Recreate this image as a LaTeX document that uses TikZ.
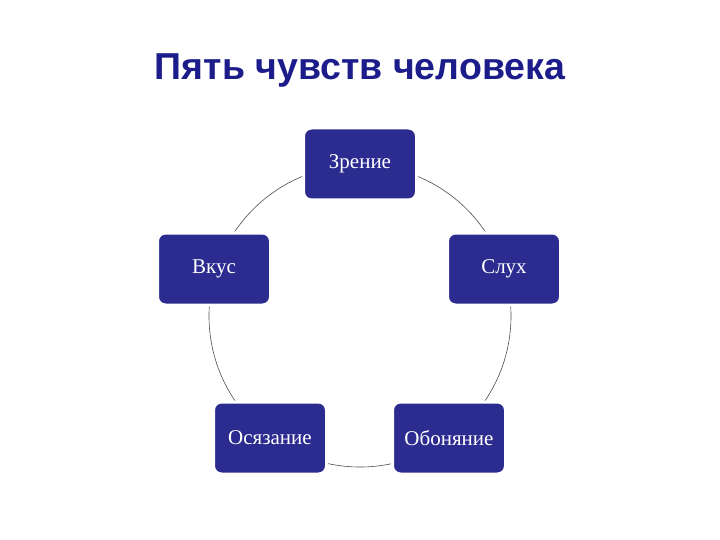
\documentclass[tikz,border=0pt]{standalone}
\usepackage{fontspec}
\setmainfont{Liberation Serif}
\newfontfamily\titlefont{Liberation Sans}
\definecolor{boxblue}{HTML}{2C2C90}
\definecolor{titleblue}{HTML}{1C1C8A}
\begin{document}
\begin{tikzpicture}[x=1pt,y=-1pt,
  sensebox/.style={rounded corners=8pt,fill=boxblue,draw=white,line width=3pt,
    minimum width=113pt,minimum height=72pt,text=white,font=\fontsize{21}{24}\selectfont,inner sep=0pt}]
\useasboundingbox (0,0) rectangle (720,540);
\fill[white] (0,0) rectangle (720,540);
\node[font=\titlefont\bfseries\fontsize{37.5}{44}\selectfont,text=titleblue] (title) at (360,70) {Пять чувств человека};
\coordinate (c) at (360,316);
\draw[black!70,line width=0.6pt] (c) circle[radius=151];
\node[sensebox] (zr) at (360,164) {Зрение};
\node[sensebox] (sl) at (504,269) {Слух};
\node[sensebox] (vk) at (214,269) {Вкус};
\node[sensebox] (os) at (270,438) {Осязание};
\node[sensebox] (ob) at (449,438) {Обоняние};
\end{tikzpicture}
\end{document}
